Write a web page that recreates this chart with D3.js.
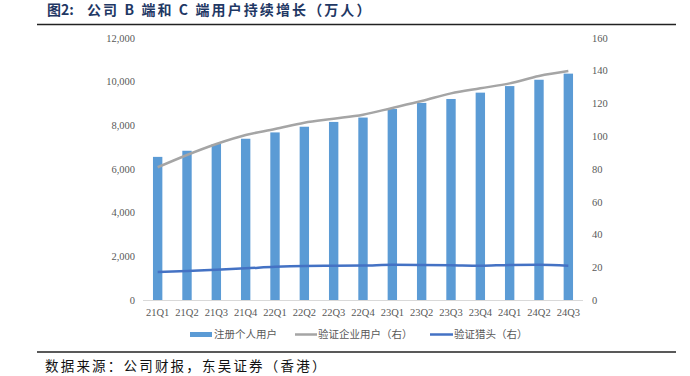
<!DOCTYPE html>
<html><head><meta charset="utf-8">
<script src="https://cdn.jsdelivr.net/npm/d3@7"></script>
<style>body{margin:0;background:#fff}svg{display:block}</style>
</head><body>
<svg id="c" width="690" height="376"></svg>
<script>
const categories = ["21Q1","21Q2","21Q3","21Q4","22Q1","22Q2","22Q3","22Q4","23Q1","23Q2","23Q3","23Q4","24Q1","24Q2","24Q3"];
const personalUsers = [6550,6830,7140,7380,7670,7930,8150,8350,8740,9020,9200,9490,9790,10080,10360];
const enterpriseUsers = [81.0,88.5,95.2,100.7,104.3,108.2,110.6,113.1,117.2,121.4,126.1,129.2,132.2,136.7,139.7];
const headhunters = [17.1,17.7,18.5,19.3,20.3,20.8,20.9,21.0,21.5,21.4,21.2,20.9,21.4,21.5,20.9];
const leftTicks = [0,2000,4000,6000,8000,10000,12000];
const rightTicks = [0,20,40,60,80,100,120,140,160];
const seriesNames = ["注册个人用户","验证企业用户（右）","验证猎头（右）"];
const titleLead = "图2:";
const titleText = "公司 B 端和 C 端用户持续增长（万人）";
const sourceText = "数据来源：公司财报，东吴证券（香港）";

const svg = d3.select("#c");
const cjk = "'Noto Sans CJK SC', sans-serif";
const serif = "'Liberation Serif', 'Times New Roman', serif";

// Title
const t = svg.append("text").attr("x",47).attr("y",15).attr("font-family",cjk).attr("font-weight","bold")
  .attr("font-size",14).attr("fill","#1f3864");
t.append("tspan").text(titleLead);
t.append("tspan").attr("x",87).attr("letter-spacing",2.1).text(titleText);
svg.append("line").attr("x1",37).attr("x2",676).attr("y1",24.5).attr("y2",24.5).attr("stroke","#222").attr("stroke-width",1.5);

// Footer
svg.append("line").attr("x1",37).attr("x2",676).attr("y1",352).attr("y2",352).attr("stroke","#222").attr("stroke-width",1.5);
svg.append("text").attr("x",45).attr("y",371).attr("font-family",cjk).attr("font-size",13.5).attr("letter-spacing",2.2)
  .attr("fill","#111").text(sourceText);

const x = d3.scaleBand().domain(categories).range([143,583]).paddingInner(0.68).paddingOuter(0.34);
const yL = d3.scaleLinear().domain([0,12000]).range([300,37.8]);
const yR = d3.scaleLinear().domain([0,160]).range([300,37.8]);
const xc = d => x(d)+x.bandwidth()/2;

// Bars
svg.append("g").selectAll("rect").data(categories).join("rect")
  .attr("x",d=>x(d)).attr("width",x.bandwidth())
  .attr("y",(d,i)=>yL(personalUsers[i])).attr("height",(d,i)=>yL(0)-yL(personalUsers[i]))
  .attr("fill","#5b9bd5");

// Lines
const line = d3.line().curve(d3.curveMonotoneX);
svg.append("path").attr("d",line(categories.map((c,i)=>[xc(c),yR(enterpriseUsers[i])])))
  .attr("fill","none").attr("stroke","#a5a5a5").attr("stroke-width",2.5);
svg.append("path").attr("d",line(categories.map((c,i)=>[xc(c),yR(headhunters[i])])))
  .attr("fill","none").attr("stroke","#4472c4").attr("stroke-width",2.5);

// Axes
const axL = svg.append("g").attr("transform","translate(135,0)")
  .call(d3.axisLeft(yL).tickValues(leftTicks).tickSize(0).tickPadding(0).tickFormat(d3.format(",")));
const axR = svg.append("g").attr("transform","translate(592,0)")
  .call(d3.axisRight(yR).tickValues(rightTicks).tickSize(0).tickPadding(0));
const axB = svg.append("g").attr("transform","translate(0,300)")
  .call(d3.axisBottom(x).tickSize(0).tickPadding(9));
[axL,axR,axB].forEach(a=>{a.select(".domain").remove();
  a.selectAll("text").attr("font-family",serif).attr("font-size",10.5).attr("fill","#595959");});
axR.selectAll("text").attr("text-anchor","start");
svg.append("line").attr("x1",143).attr("x2",583).attr("y1",300.5).attr("y2",300.5).attr("stroke","#d9d9d9");

// Legend
const lg = svg.append("g").attr("font-family",cjk).attr("font-size",10.5).attr("fill","#595959");
lg.append("rect").attr("x",190).attr("y",332).attr("width",22).attr("height",5).attr("fill","#5b9bd5");
lg.append("text").attr("x",214).attr("y",338).text(seriesNames[0]);
lg.append("line").attr("x1",295).attr("x2",317).attr("y1",334.5).attr("y2",334.5).attr("stroke","#a5a5a5").attr("stroke-width",2.5);
lg.append("text").attr("x",318).attr("y",338).text(seriesNames[1]);
lg.append("line").attr("x1",430).attr("x2",453).attr("y1",334.5).attr("y2",334.5).attr("stroke","#4472c4").attr("stroke-width",2.5);
lg.append("text").attr("x",454).attr("y",338).text(seriesNames[2]);
</script>
</body></html>
